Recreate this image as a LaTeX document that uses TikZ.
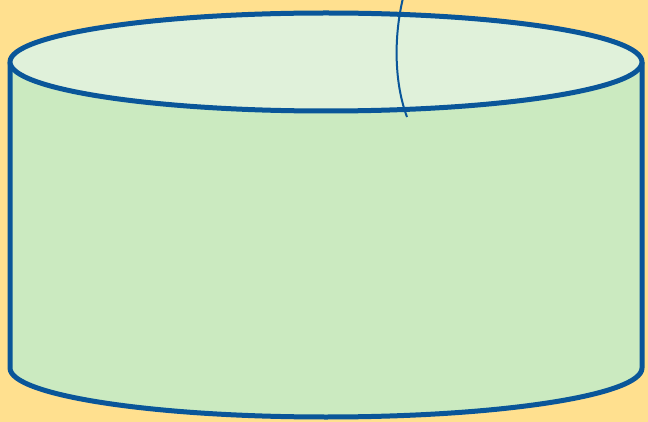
\documentclass[tikz,border=0pt]{standalone}
\usepackage{tikz}
\definecolor{bgyellow}{RGB}{255,224,143}
\definecolor{topgreen}{RGB}{224,241,218}
\definecolor{sidegreen}{RGB}{203,234,192}
\definecolor{rimblue}{RGB}{10,86,153}

\begin{document}
\begin{tikzpicture}[x=1pt,y=-1pt,
      rim/.style={draw=rimblue, line width=5pt, line join=round},
      wire/.style={draw=rimblue, line width=2pt}]
      \fill[bgyellow] (0,0) rectangle (648,422);
      \useasboundingbox (0,0) rectangle (648,422);
      % body of the drum
      \path[rim, fill=sidegreen] (10,62) -- (10,368) arc[start angle=180, end angle=0, x radius=316, y radius=49] -- (642,62);
      % lid
      \path[rim, fill=topgreen] (326,62) ellipse[x radius=316, y radius=49];
      \coordinate (wa) at (403,-2); \coordinate (wb) at (407,117);
      \draw[wire] (wa) .. controls (393,40) and (395,85) .. (wb);
    \end{tikzpicture}
\end{document}
